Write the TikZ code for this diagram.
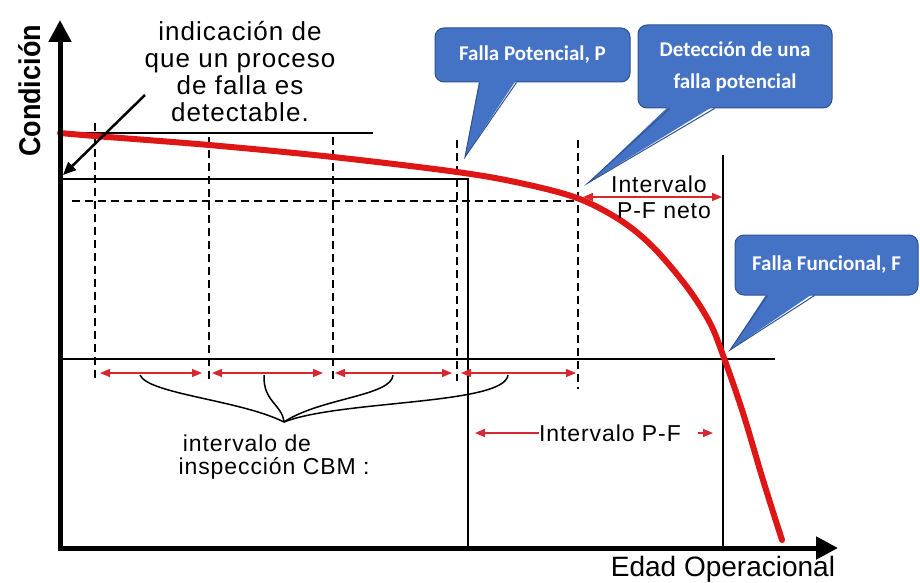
\documentclass[tikz,border=0pt]{standalone}
\usepackage{fontspec}
\usepackage{graphicx}
\setmainfont{Liberation Sans}
\newfontfamily\lbl[LetterSpace=4]{Liberation Sans}
\newfontfamily\callfont{Carlito}
\usetikzlibrary{arrows.meta,calc}
\definecolor{cred}{RGB}{222,22,22}
\definecolor{ared}{RGB}{214,40,48}
\definecolor{cblue}{RGB}{68,114,196}
\definecolor{cbord}{RGB}{47,82,143}
\tikzset{
  thinl/.style={draw=black,line width=1.4},
  dsh/.style={draw=black,line width=1.4,dash pattern=on 8pt off 5pt},
  redarr/.style={draw=ared,line width=1.3,{Triangle[length=10pt,width=8pt]}-{Triangle[length=10pt,width=8pt]}},
  redone/.style={draw=ared,line width=1.3,-{Triangle[length=10pt,width=8pt]}},
  axis/.style={draw=black,line width=5,-{Triangle[length=22pt,width=22pt]}},
  brace/.style={draw=black,line width=1.5},
  callout/.style={fill=cblue,draw=cbord,line width=1,rounded corners=9pt,inner sep=0pt,
     text=white,font=\callfont\bfseries\fontsize{21}{32}\selectfont,align=center},
  lab/.style={font=\lbl\fontsize{23}{26}\selectfont,inner sep=0pt}
}
\begin{document}
\begin{tikzpicture}[x=1pt,y=-1pt]
\useasboundingbox (0,0) rectangle (920,583);
\fill[white] (0,0) rectangle (920,583);

% reference lines
\draw[thinl] (60,133) -- (373,133);
\draw[thinl] (60,179) -- (468,179) -- (468,548);
\draw[thinl] (60,359) -- (775,359);
\draw[thinl] (723,155) -- (723,548);

% dashed lines
\draw[dsh] (72,201) -- (578,201);
\draw[dsh] (95,123) -- (95,378);
\draw[dsh] (209,137) -- (209,381);
\draw[dsh] (333,137) -- (333,381);
\draw[dsh] (457,140) -- (457,381);
\draw[dsh] (578,140) -- (578,389);

% condition curve
\draw[cred,line width=6,line cap=round] plot[smooth,tension=0.55] coordinates
 {(60,133) (95,136) (209,145) (333,157) (457,172) (520,183) (577,198) (620,220) (653,247) (687,287) (710,323) (724,358) (743,413) (763,480) (782,540)};

% axes
\coordinate (orig) at (60,548);
\coordinate (ytip) at (60,20);
\coordinate (xtip) at (838,548);
\draw[axis] (60,551) -- (ytip);
\draw[axis] (58,548) -- (xtip);

\node[rotate=90,inner sep=0pt,font=\bfseries\fontsize{30}{32}\selectfont] (cond) at (30,91) {\scalebox{0.9}[1]{Condición}};
\node[anchor=base,inner sep=0pt,font=\fontsize{28}{30}\selectfont] (edad) at (723,576) {Edad Operacional};

% indication text and arrow
\node[font=\lbl\fontsize{26}{27}\selectfont,align=center,inner sep=0pt] (ind) at (240,72)
  {indicación de\\que un proceso\\de falla es\\detectable.};
\coordinate (indA) at (145,95);
\coordinate (indB) at (63,175);
\draw[line width=2.5,-{Triangle[length=13pt,width=11pt]}] (indA) -- (indB);

% CBM interval arrows
\draw[redarr] (100,373) -- (202,373);
\draw[redarr] (212,373) -- (323,373);
\draw[redarr] (335,373) -- (452,373);
\draw[redarr] (461,373) -- (576,373);

% braces
\coordinate (bj) at (284,422);
\draw[brace] (140,375) .. controls (148,394) and (240,400) .. (bj);
\draw[brace] (264,375) .. controls (263,402) and (282,404) .. (bj);
\draw[brace] (393,375) .. controls (392,396) and (320,398) .. (bj);
\draw[brace] (508,375) .. controls (505,405) and (340,400) .. (bj);

\node[lab] (iv1) at (247,443) {intervalo de};
\node[lab] (iv2) at (274,468) {inspección CBM :};

% P-F interval
\node[lab] (pf) at (610,433) {Intervalo P-F};
\coordinate (pfL) at (475,433);
\draw[redone] (pf.west) -- (pfL);
\coordinate (pfR1) at (698,433);
\coordinate (pfR2) at (713,433);
\draw[redone] (pfR1) -- (pfR2);

% P-F neto
\coordinate (ntL) at (583,197);
\coordinate (ntR) at (722,197);
\draw[redarr] (ntL) -- (ntR);
\node[lab] (nt1) at (659,184) {Intervalo};
\node[lab] (nt2) at (664,211) {P-F neto};

% callouts
\node[callout,minimum width=195pt,minimum height=54pt] (cp) at (532.5,55) {\raisebox{-2pt}{Falla Potencial, P}};
\coordinate (cpt) at (465,157);
\fill[cblue] ($(cp.south west)+(45,-3)$) -- ($(cp.south west)+(82,-3)$) -- (cpt) -- cycle;
\draw[cbord,line width=1] ($(cp.south west)+(45,0)$) -- (cpt) -- ($(cp.south west)+(82,0)$);

\node[callout,minimum width=194pt,minimum height=83pt] (cd) at (735,66.5) {\raisebox{-5pt}{Detección de una}\\\raisebox{-5pt}{falla potencial}};
\coordinate (cdt) at (588,183);
\fill[cblue] ($(cd.south west)+(32,-3)$) -- ($(cd.south west)+(77,-3)$) -- (cdt) -- cycle;
\draw[cbord,line width=1] ($(cd.south west)+(32,0)$) -- (cdt) -- ($(cd.south west)+(77,0)$);

\node[callout,minimum width=183pt,minimum height=60pt] (cf) at (826.5,265) {Falla Funcional, F};
\coordinate (cft) at (730,350);
\fill[cblue] ($(cf.south west)+(33,-3)$) -- ($(cf.south west)+(80,-3)$) -- (cft) -- cycle;
\draw[cbord,line width=1] ($(cf.south west)+(33,0)$) -- (cft) -- ($(cf.south west)+(80,0)$);
\end{tikzpicture}
\end{document}
